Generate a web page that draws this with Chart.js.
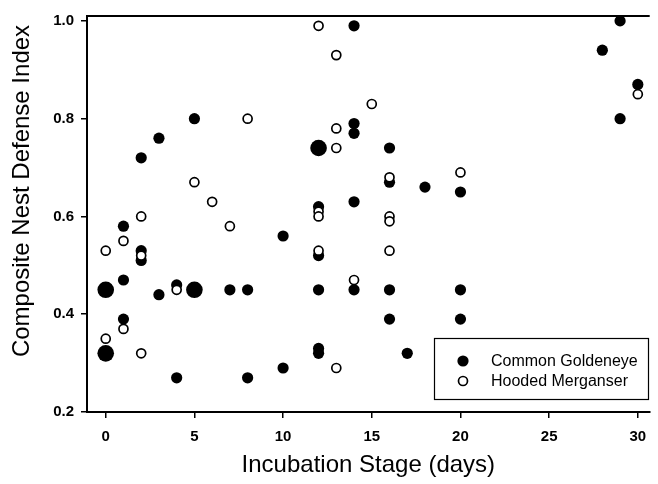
<!DOCTYPE html>
<html>
<head>
<meta charset="utf-8">
<script src="https://cdn.jsdelivr.net/npm/chart.js@4.4.0/dist/chart.umd.min.js"></script>
<style>
  body { margin: 0; background: #fff; }
  #wrap { width: 658px; height: 484px; }
</style>
</head>
<body>
<div id="wrap"><canvas id="myChart"></canvas></div>
<script>
var xTicks = [0, 5, 10, 15, 20, 25, 30];
var yTicks = [0.2, 0.4, 0.6, 0.8, 1.0];

// Common Goldeneye, single nests
var goldX = [1, 1, 1, 2, 2, 2, 3, 3, 4, 4, 5, 7, 8, 8, 10, 10, 12, 12, 12, 12, 12,
             14, 14, 14, 14, 14, 16, 16, 16, 16, 17, 18, 20, 20, 20, 28, 29, 29, 30];
var goldY = [0.58, 0.47, 0.39, 0.72, 0.53, 0.51, 0.76, 0.44, 0.46, 0.27, 0.80, 0.45, 0.45, 0.27, 0.56, 0.29,
             0.62, 0.52, 0.45, 0.33, 0.32, 0.99, 0.79, 0.77, 0.63, 0.45, 0.74, 0.67, 0.45, 0.39,
             0.32, 0.66, 0.65, 0.45, 0.39, 0.94, 1.00, 0.80, 0.87];
// Common Goldeneye, several nests at one spot
var goldManyX = [0, 0, 5, 12];
var goldManyY = [0.45, 0.32, 0.45, 0.74];
// Hooded Merganser
var mergX = [0, 0, 1, 1, 2, 2, 2, 4, 5, 6, 7, 8, 12, 12, 12, 12, 13, 13, 13, 13, 14, 15,
             16, 16, 16, 16, 20, 30];
var mergY = [0.53, 0.35, 0.55, 0.37, 0.60, 0.52, 0.32, 0.45, 0.67, 0.63, 0.58, 0.80,
             0.99, 0.61, 0.60, 0.53, 0.93, 0.78, 0.74, 0.29, 0.47, 0.83,
             0.68, 0.60, 0.59, 0.53, 0.69, 0.85];

var FONT = '"Liberation Sans", Arial, sans-serif';

function pts(xs, ys) {
  return xs.map(function (x, i) { return { x: x, y: ys[i] }; });
}

// top frame line, rotated y title and the boxed legend
var extras = {
  id: 'extras',
  afterDraw: function (chart) {
    var ctx = chart.ctx, a = chart.chartArea;
    ctx.save();
    ctx.strokeStyle = '#000';
    ctx.lineWidth = 2;
    ctx.beginPath();
    ctx.moveTo(a.left, a.top);
    ctx.lineTo(a.right, a.top);
    ctx.stroke();

    ctx.save();
    ctx.translate(22, 191);
    ctx.rotate(-Math.PI / 2);
    ctx.font = '24px ' + FONT;
    ctx.fillStyle = '#000';
    ctx.textAlign = 'center';
    ctx.textBaseline = 'middle';
    ctx.fillText('Composite Nest Defense Index', 0, 0);
    ctx.restore();

    // legend
    ctx.lineWidth = 1.2;
    ctx.strokeRect(434.5, 338.5, 214, 61);
    ctx.font = '16px ' + FONT;
    ctx.textAlign = 'left';
    ctx.textBaseline = 'middle';
    var ds = chart.data.datasets;
    [0, 1].forEach(function (k, row) {
      var d = ds[k], y = 361 + row * 20;
      ctx.beginPath();
      ctx.arc(463, y, d.pointRadius, 0, Math.PI * 2);
      ctx.fillStyle = d.pointBackgroundColor;
      ctx.fill();
      if (d.pointBorderWidth) {
        ctx.lineWidth = d.pointBorderWidth;
        ctx.stroke();
      }
      ctx.fillStyle = '#000';
      ctx.fillText(d.label, 491, y + 1);
    });
    ctx.restore();
  }
};

new Chart("myChart", {
  type: "scatter",
  data: {
    datasets: [{
      label: "Common Goldeneye",
      data: pts(goldX, goldY),
      pointRadius: 5.6,
      pointBackgroundColor: "#000",
      pointBorderColor: "#000",
      pointBorderWidth: 0,
      order: 1
    }, {
      label: "Hooded Merganser",
      data: pts(mergX, mergY),
      pointRadius: 4.5,
      pointBackgroundColor: "#fff",
      pointBorderColor: "#000",
      pointBorderWidth: 1.7,
      order: 0
    }, {
      label: "Common Goldeneye (several nests)",
      data: pts(goldManyX, goldManyY),
      pointRadius: 8.3,
      pointBackgroundColor: "#000",
      pointBorderColor: "#000",
      pointBorderWidth: 0,
      order: 2
    }]
  },
  plugins: [extras],
  options: {
    responsive: true,
    maintainAspectRatio: false,
    animation: false,
    layout: { padding: { left: 0, right: 0, top: 9, bottom: 0 } },
    plugins: { legend: { display: false }, tooltip: { enabled: false } },
    scales: {
      x: {
        type: "linear",
        min: -1.056,
        max: 30.67,
        afterBuildTicks: function (s) { s.ticks = xTicks.map(function (v) { return { value: v }; }); },
        afterFit: function (s) { s.height = 72; },
        grid: { drawOnChartArea: false, tickLength: 6, color: "#000", lineWidth: 1.5 },
        border: { color: "#000", width: 2 },
        ticks: { color: "#000", padding: 10, maxRotation: 0, font: { family: FONT, size: 15, weight: "bold" } },
        title: {
          display: true,
          text: "Incubation Stage (days)",
          color: "#000",
          font: { family: FONT, size: 24 },
          padding: { top: 4, bottom: 4 }
        }
      },
      y: {
        type: "linear",
        min: 0.2,
        max: 1.01,
        afterBuildTicks: function (s) { s.ticks = yTicks.map(function (v) { return { value: v }; }); },
        afterFit: function (s) { s.width = 87; },
        grid: { drawOnChartArea: false, tickLength: 6, color: "#000", lineWidth: 1.5 },
        border: { color: "#000", width: 2 },
        ticks: {
          color: "#000",
          padding: 7,
          font: { family: FONT, size: 15, weight: "bold" },
          callback: function (v) { return v.toFixed(1); }
        }
      }
    }
  }
});
</script>
</body>
</html>
